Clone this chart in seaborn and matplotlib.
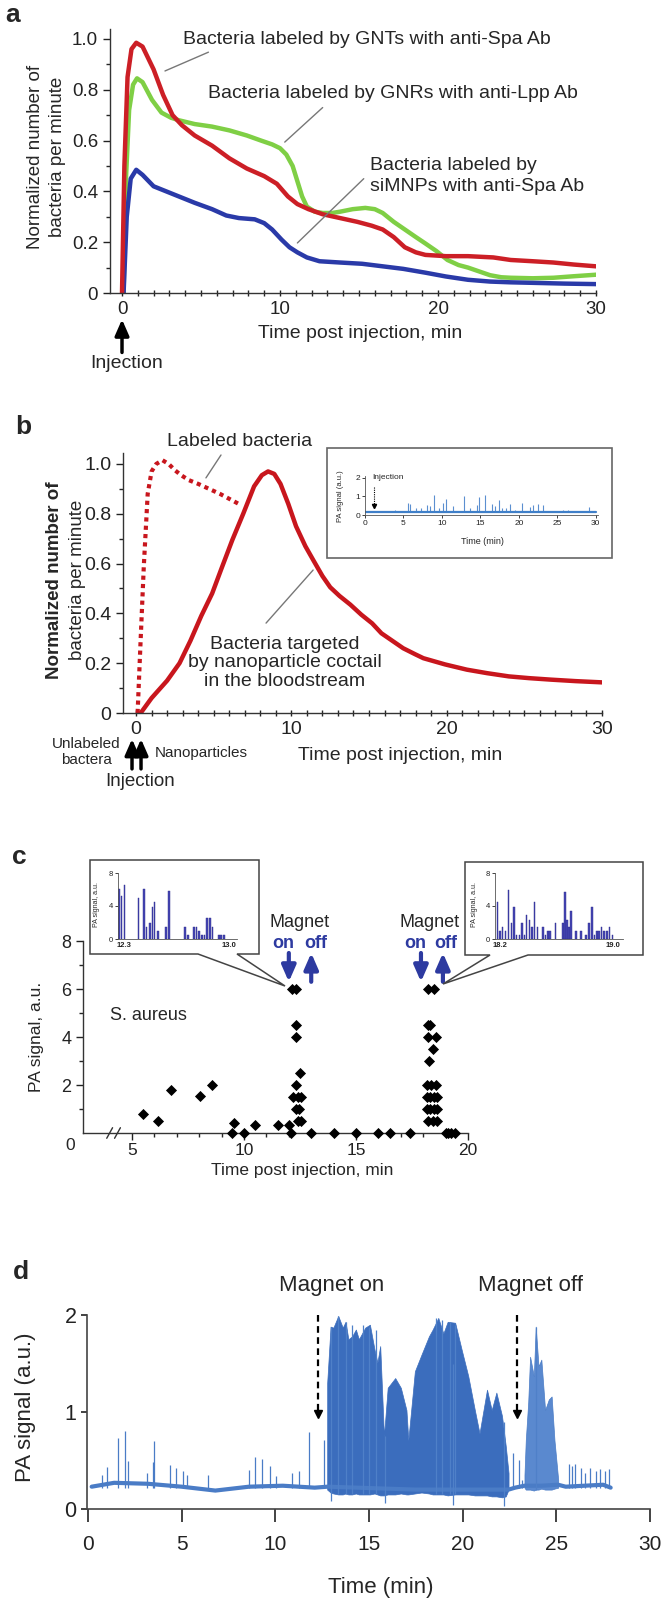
import numpy as np
import matplotlib.pyplot as plt
from matplotlib.patches import Polygon, Rectangle
import seaborn as sns

# ---- panel a: normalized bacteria counts (three labels) ----
a_x_red = [0, 0.15, 0.35, 0.6, 0.9, 1.3, 2.0, 2.6, 3.2, 3.8, 4.6, 5.7, 6.8, 7.9, 9.0, 9.8, 10.5, 11.1, 11.8,
           12.7, 13.8, 14.9, 15.8, 16.5, 17.2, 17.9, 18.6, 19.2, 20.5, 21.9, 23.5, 24.6, 26, 27.3, 28.6, 30]
a_y_red = [0, 0.5, 0.85, 0.96, 0.985, 0.97, 0.88, 0.78, 0.7, 0.66, 0.62, 0.58, 0.53, 0.49, 0.46, 0.43, 0.38,
           0.35, 0.33, 0.31, 0.295, 0.28, 0.265, 0.25, 0.22, 0.18, 0.16, 0.15, 0.145, 0.145, 0.14, 0.13, 0.125,
           0.12, 0.112, 0.105]
a_x_grn = [0.1, 0.25, 0.45, 0.7, 0.95, 1.3, 1.9, 2.5, 3.1, 3.6, 4.6, 5.7, 6.8, 7.9, 8.8, 9.5, 10.0, 10.4, 10.8,
           11.1, 11.4, 11.7, 12.2, 12.7, 13.3, 13.8, 14.6, 15.4, 16.0, 16.5, 17.2, 17.9, 18.6, 19.2, 19.9, 20.6,
           21.3, 21.9, 22.6, 23.3, 24.0, 24.6, 26, 27.3, 28.6, 30]
a_y_grn = [0, 0.45, 0.72, 0.82, 0.845, 0.83, 0.76, 0.71, 0.69, 0.68, 0.665, 0.655, 0.64, 0.62, 0.6, 0.585, 0.57,
           0.545, 0.5, 0.44, 0.38, 0.34, 0.32, 0.315, 0.315, 0.32, 0.33, 0.335, 0.33, 0.315, 0.28, 0.25, 0.22,
           0.195, 0.165, 0.13, 0.11, 0.1, 0.085, 0.07, 0.062, 0.06, 0.058, 0.06, 0.066, 0.072]
a_x_blu = [0.1, 0.3, 0.55, 0.9, 1.3, 2.0, 2.8, 3.6, 4.6, 5.7, 6.6, 7.4, 8.4, 9.0, 9.5, 10.1, 10.6, 11.1, 11.7,
           12.5, 13.8, 15.2, 16.5, 17.8, 19.2, 20.5, 21.9, 23.3, 24.6, 26, 28, 30]
a_y_blu = [0, 0.3, 0.45, 0.485, 0.465, 0.42, 0.4, 0.38, 0.355, 0.33, 0.305, 0.295, 0.29, 0.275, 0.25, 0.21, 0.18,
           0.16, 0.14, 0.125, 0.12, 0.115, 0.105, 0.095, 0.08, 0.065, 0.052, 0.045, 0.042, 0.04, 0.037, 0.035]
a_labels = ["Bacteria labeled by GNTs with anti-Spa Ab", "Bacteria labeled by GNRs with anti-Lpp Ab",
            "Bacteria labeled by\nsiMNPs with anti-Spa Ab"]

# ---- panel b: labeled vs targeted bacteria ----
b_x_sol = [0.3, 1.0, 2.0, 2.8, 3.5, 4.2, 4.9, 5.5, 6.2, 6.9, 7.6, 8.1, 8.5, 8.9, 9.3, 9.8, 10.3, 10.9, 11.4, 12.0,
           12.5, 13.1, 13.8, 14.5, 15.2, 15.8, 16.5, 17.2, 18.0, 18.5, 19.9, 21.3, 22.6, 24.0, 25.3, 26.7, 28.3, 30]
b_y_sol = [0, 0.06, 0.13, 0.2, 0.29, 0.39, 0.48, 0.58, 0.695, 0.8, 0.91, 0.955, 0.97, 0.96, 0.92, 0.84, 0.75,
           0.67, 0.615, 0.55, 0.505, 0.47, 0.435, 0.395, 0.36, 0.32, 0.29, 0.26, 0.235, 0.22, 0.195, 0.174, 0.16,
           0.147, 0.14, 0.134, 0.128, 0.123]
b_x_dot = [0.1, 0.3, 0.5, 0.75, 1.0, 1.3, 1.7, 2.1, 2.5, 2.9, 3.4, 4.0, 4.7, 5.4, 6.0, 6.6]
b_y_dot = [0, 0.3, 0.59, 0.88, 0.97, 1.0, 1.015, 1.0, 0.975, 0.955, 0.935, 0.92, 0.9, 0.88, 0.86, 0.84]
# inset of panel b: PA signal spikes
bi_x = [3.9, 5.6, 5.9, 6.6, 7.3, 8.1, 8.5, 9.0, 9.6, 10.2, 10.5, 11.4, 12.9, 13.7, 14.5, 14.8, 15.6, 16.5, 16.9,
        17.4, 17.8, 18.3, 18.9, 19.5, 20.4, 21.5, 21.9, 22.5, 23.1, 25.7, 26.4, 27.9, 29.1]
bi_y = [0.25, 0.65, 0.6, 0.4, 0.36, 0.54, 0.48, 1.07, 0.36, 0.62, 0.86, 0.5, 1.02, 0.36, 0.54, 0.95, 1.07, 0.57,
        0.5, 0.8, 0.4, 0.36, 0.57, 0.27, 0.66, 0.45, 0.54, 0.57, 0.54, 0.27, 0.27, 0.18, 0.45]
bi_base = 0.15

# ---- panel c: PA signal of S. aureus ----
c_x = [5.48, 6.14, 6.75, 8.02, 8.59, 9.56, 9.47, 10.0, 10.5, 11.5, 12.0, 12.1,
       12.15, 12.3, 12.34, 12.3, 12.5, 12.3, 12.2, 12.4, 12.55, 12.3, 12.45, 12.4, 12.55,
       13.0, 14.0, 15.0, 16.0, 16.5, 17.4,
       18.23, 18.46, 18.2, 18.3, 18.2, 18.55, 18.45, 18.27, 18.17, 18.36, 18.55,
       18.17, 18.3, 18.46, 18.6, 18.17, 18.3, 18.49, 18.6, 18.23, 18.42, 18.6,
       19.0, 19.1, 19.25, 19.4]
c_y = [0.8, 0.5, 1.8, 1.53, 2.0, 0.42, 0.0, 0.0, 0.32, 0.32, 0.32, 0.0,
       6.0, 6.0, 4.5, 4.0, 2.5, 2.0, 1.5, 1.5, 1.5, 1.0, 1.0, 0.5, 0.5,
       0.0, 0.0, 0.0, 0.0, 0.0, 0.0,
       6.0, 6.0, 4.5, 4.5, 4.0, 4.0, 3.5, 3.0, 2.0, 2.0, 2.0,
       1.5, 1.5, 1.5, 1.5, 1.0, 1.0, 1.0, 1.0, 0.5, 0.5, 0.5,
       0.0, 0.0, 0.0, 0.0]
c1_x = [12.267, 12.282, 12.304, 12.397, 12.432, 12.450, 12.472, 12.490, 12.503, 12.525, 12.580, 12.598, 12.706,
        12.724, 12.763, 12.781, 12.799, 12.816, 12.834, 12.852, 12.869, 12.887, 12.929, 12.945, 12.962]
c1_y = [6.1, 5.2, 6.5, 5.0, 6.1, 1.5, 1.9, 3.9, 4.5, 1.0, 1.5, 5.85, 1.5, 0.5, 1.5, 1.5, 1.0, 0.5, 0.5, 2.5,
        2.5, 1.5, 0.5, 0.5, 0.5]
c2_x = [18.181, 18.200, 18.219, 18.238, 18.262, 18.280, 18.299, 18.318, 18.337, 18.356, 18.375, 18.389, 18.408,
        18.427, 18.446, 18.465, 18.503, 18.521, 18.540, 18.555, 18.592, 18.645, 18.661, 18.673, 18.687, 18.701,
        18.739, 18.772, 18.810, 18.829, 18.850, 18.869, 18.886, 18.900, 18.918, 18.937, 18.956, 18.975, 18.994]
c2_y = [4.5, 1.0, 1.5, 1.0, 6.0, 1.9, 3.9, 0.5, 0.5, 1.9, 0.5, 2.9, 2.3, 1.5, 4.5, 1.5, 1.5, 0.5, 1.0, 1.0,
        1.9, 1.9, 5.7, 2.3, 1.5, 3.4, 1.0, 1.0, 0.5, 1.9, 3.9, 0.5, 1.0, 1.0, 1.5, 1.0, 1.0, 1.5, 0.5]

# ---- panel d: PA signal trace ----
d_base_x = [0.2, 1.4, 3.2, 5.0, 6.8, 8.6, 10.4, 12.1, 12.8, 17.5, 22.45, 22.8, 23.3, 24.2, 25.1, 25.5, 26.5,
            27.5, 27.9]
d_base_y = [0.23, 0.27, 0.26, 0.23, 0.19, 0.23, 0.24, 0.22, 0.23, 0.2, 0.2, 0.22, 0.24, 0.24, 0.25, 0.23, 0.24,
            0.25, 0.22]
d_spk_x = [0.75, 1.04, 1.6, 2.0, 2.14, 3.16, 3.48, 3.52, 4.4, 4.7, 5.1, 5.3, 6.4, 8.6, 8.9, 9.3, 9.7, 10.05,
           10.9, 11.25, 11.8, 12.6, 22.7, 23.0, 23.15, 25.65, 25.85, 26.0, 26.3, 26.55, 26.8, 27.1, 27.35, 27.6,
           27.8]
d_spk_y = [0.35, 0.43, 0.73, 0.80, 0.49, 0.37, 0.48, 0.70, 0.45, 0.42, 0.39, 0.35, 0.35, 0.40, 0.54, 0.52, 0.44,
           0.34, 0.37, 0.39, 0.79, 0.71, 0.58, 0.51, 0.3, 0.46, 0.44, 0.46, 0.42, 0.37, 0.42, 0.39, 0.41, 0.39,
           0.41]
d_b1_x = [12.77, 12.95, 13.1, 13.36, 13.6, 13.75, 13.9, 14.1, 14.3, 14.46, 14.8, 15.05, 15.3, 15.45, 15.6, 15.8,
          16.0, 16.4, 16.7, 17.0, 17.1, 17.45, 17.8, 18.2, 18.4, 18.7, 18.97, 19.2, 19.6, 19.95, 20.3, 20.65,
          20.9, 21.3, 21.55, 21.8, 22.1, 22.3, 22.45]
d_b1_hi = [1.3, 1.88, 1.87, 1.99, 1.87, 1.93, 1.75, 1.78, 1.85, 1.75, 1.87, 1.9, 1.64, 1.51, 1.68, 0.75, 1.25,
           1.35, 1.25, 1.02, 0.71, 1.42, 1.59, 1.78, 1.85, 1.97, 1.81, 1.93, 1.92, 1.64, 1.37, 1.02, 0.78, 1.23,
           1.02, 1.2, 0.96, 0.65, 0.37]
d_b1_lo = [0.2, 0.17, 0.16, 0.15, 0.15, 0.16, 0.15, 0.15, 0.16, 0.15, 0.15, 0.15, 0.16, 0.15, 0.14, 0.14, 0.15,
           0.15, 0.16, 0.15, 0.15, 0.16, 0.17, 0.16, 0.15, 0.15, 0.15, 0.14, 0.15, 0.15, 0.15, 0.14, 0.14, 0.14,
           0.13, 0.13, 0.12, 0.13, 0.2]
d_b2_x = [23.3, 23.37, 23.5, 23.6, 23.8, 23.9, 24.05, 24.2, 24.4, 24.6, 24.75, 24.9, 25.1]
d_b2_hi = [0.35, 0.71, 1.1, 1.57, 1.37, 1.88, 1.47, 1.54, 1.02, 1.13, 1.16, 0.71, 0.3]
d_b2_lo = [0.22, 0.2, 0.2, 0.2, 0.19, 0.2, 0.2, 0.21, 0.2, 0.2, 0.2, 0.21, 0.22]
d_hair_x = [12.95, 13.36, 13.75, 14.07, 14.7, 15.0, 15.35, 15.85, 18.6, 18.9, 19.3, 19.5, 19.6, 22.2, 23.9]
d_hair_lo = [0.08, 0.15, 0.15, 0.15, 0.15, 0.15, 0.15, 0.06, 0.15, 0.15, 0.15, 0.045, 0.15, 0.03, 0.2]
d_hair_hi = [1.88, 1.99, 1.93, 1.9, 1.9, 1.88, 1.85, 0.75, 1.97, 1.95, 1.93, 1.5, 1.9, 0.9, 1.88]

W, H = 662, 1607
sns.set_theme(style="ticks")
plt.rcParams["font.family"] = ["Liberation Sans", "DejaVu Sans"]
fig = plt.figure(figsize=(W / 100, H / 100), dpi=100)


def rect(l, t, r, b):
    return [l / W, 1 - b / H, (r - l) / W, (b - t) / H]


def ftxt(x, y, s, **kw):
    kw.setdefault("ha", "center")
    kw.setdefault("va", "center")
    fig.text(x / W, 1 - y / H, s, **kw)


def style(ax, lw=1.0, col="#333333"):
    sns.despine(ax=ax)
    for s in ["left", "bottom"]:
        ax.spines[s].set_color(col)
        ax.spines[s].set_linewidth(lw)
    ax.tick_params(colors="#222222", width=lw)
    ax.set_xlabel("")
    ax.set_ylabel("")


# ================= panel a =================
axa = fig.add_axes(rect(110, 28.8, 596, 293))
for xs, ys, c in [(a_x_grn, a_y_grn, "#7fcf45"), (a_x_blu, a_y_blu, "#2a3aa8"), (a_x_red, a_y_red, "#cc1f26")]:
    sns.lineplot(x=xs, y=ys, ax=axa, color=c, linewidth=3.2, sort=False, estimator=None)
axa.set_xlim(-0.76, 30)
axa.set_ylim(0, 1.04)
style(axa)
axa.set_yticks([0, 0.2, 0.4, 0.6, 0.8, 1.0], ["0", "0.2", "0.4", "0.6", "0.8", "1.0"], fontsize=13.5)
axa.set_yticks(np.arange(0.1, 1.0, 0.2), minor=True)
axa.set_xticks([0, 10, 20, 30], ["0", "10", "20", "30"], fontsize=13.5)
axa.set_xticks(range(0, 31), minor=True)
axa.tick_params(axis="x", which="both", direction="inout", length=5)
axa.tick_params(axis="y", which="major", length=5)
axa.tick_params(axis="y", which="minor", length=3)
for (x0, y0, x1, y1) in [(2.72, 0.874, 5.47, 0.948), (10.3, 0.594, 12.7, 0.73), (11.1, 0.197, 15.3, 0.45)]:
    axa.plot([x0, x1], [y0, y1], color="#777777", lw=1)
ftxt(183, 39, a_labels[0], ha="left", fontsize=14)
ftxt(208, 94, a_labels[1], ha="left", fontsize=14)
ftxt(370, 176, a_labels[2], ha="left", fontsize=14, linespacing=1.25)
ftxt(36, 157, "Normalized number of", rotation=90, fontsize=13.5)
ftxt(57, 157, "bacteria per minute", rotation=90, fontsize=13.5)
ftxt(360, 333, "Time post injection, min", fontsize=14)
axa.annotate("", xy=(0, -0.1), xytext=(0, -0.225), xycoords=axa.get_xaxis_transform(),
             arrowprops=dict(arrowstyle="-|>,head_width=0.35,head_length=0.8", color="black", lw=2.5,
                             shrinkA=0, shrinkB=0))
ftxt(127, 363, "Injection", fontsize=14)
ftxt(13, 15, "a", fontsize=19, fontweight="bold")

# ================= panel b =================
axb = fig.add_axes(rect(123, 453, 602, 713))
sns.lineplot(x=b_x_dot, y=b_y_dot, ax=axb, color="#c8161d", linewidth=3, linestyle=(0, (1, 1)),
             sort=False, estimator=None)
sns.lineplot(x=b_x_sol, y=b_y_sol, ax=axb, color="#c8161d", linewidth=3.2, sort=False, estimator=None)
axb.set_xlim(-0.84, 30)
axb.set_ylim(0, 1.044)
style(axb)
axb.set_yticks([0, 0.2, 0.4, 0.6, 0.8, 1.0], ["0", "0.2", "0.4", "0.6", "0.8", "1.0"], fontsize=14)
axb.set_yticks(np.arange(0.1, 1.0, 0.2), minor=True)
axb.set_xticks([0, 10, 20, 30], ["0", "10", "20", "30"], fontsize=14)
axb.set_xticks(range(0, 31), minor=True)
axb.tick_params(axis="x", which="both", direction="inout", length=5)
axb.tick_params(axis="y", which="major", length=5)
axb.tick_params(axis="y", which="minor", length=3)
axb.plot([4.5, 5.47], [0.944, 1.036], color="#777777", lw=1)
axb.plot([8.37, 11.4], [0.361, 0.574], color="#777777", lw=1)
ftxt(240, 442, "Labeled bacteria", fontsize=14)
ftxt(285, 663, "Bacteria targeted\nby nanoparticle coctail\nin the bloodstream", fontsize=14,
     linespacing=1.15)
ftxt(55, 580, "Normalized number of", rotation=90, fontsize=13.5, fontweight="bold")
ftxt(77, 580, "bacteria per minute", rotation=90, fontsize=13.5)
ftxt(400, 755, "Time post injection, min", fontsize=14)
for xa in [-0.26, 0.32]:
    axb.annotate("", xy=(xa, -0.1), xytext=(xa, -0.215), xycoords=axb.get_xaxis_transform(),
                 arrowprops=dict(arrowstyle="-|>,head_width=0.35,head_length=0.8", color="black", lw=2.5,
                                 shrinkA=0, shrinkB=0))
ftxt(86, 752, "Unlabeled\nbactera", fontsize=11, linespacing=1.1)
ftxt(155, 753, "Nanoparticles", ha="left", fontsize=11)
ftxt(140, 781, "Injection", fontsize=13.5)
ftxt(23, 427, "b", fontsize=19, fontweight="bold")

# inset of b
fig.add_artist(Rectangle((327 / W, 1 - 558 / H), 285 / W, 110 / H, transform=fig.transFigure,
                         facecolor="white", edgecolor="#666666", lw=1.2, zorder=1))
axbi = fig.add_axes(rect(365, 476, 598, 515))
axbi.set_zorder(3)
axbi.patch.set_alpha(0)
axbi.vlines(bi_x, bi_base, bi_y, color="#5b8fd0", lw=0.8)
sns.lineplot(x=[0, 30], y=[bi_base, bi_base], ax=axbi, color="#3f7fc8", linewidth=1.6)
axbi.set_xlim(0, 30.3)
axbi.set_ylim(0, 2.1)
style(axbi, lw=0.6, col="#555555")
axbi.set_yticks([0, 1, 2], ["0", "1", "2"], fontsize=6)
axbi.set_xticks(range(0, 31, 5), [str(v) for v in range(0, 31, 5)], fontsize=6)
axbi.tick_params(length=2, pad=1.5)
axbi.plot([1.2, 1.2], [1.5, 0.55], color="black", lw=0.8, linestyle=(0, (1, 1)))
axbi.plot([1.2], [0.5], marker="v", color="black", markersize=3)
axbi.text(1.0, 2.0, "Injection", fontsize=6, ha="left", va="center")
ftxt(482, 541, "Time (min)", fontsize=6.5, zorder=4)
ftxt(340, 496, "PA signal (a.u.)", rotation=90, fontsize=5.5, zorder=4)

# ================= panel c =================
axc = fig.add_axes(rect(83, 941, 468, 1133))
sns.scatterplot(x=c_x, y=c_y, ax=axc, marker="D", color="black", s=32, edgecolor="black", linewidth=0,
                clip_on=False, zorder=5)
axc.set_xlim(2.81, 20)
axc.set_ylim(0, 8)
style(axc)
axc.set_yticks([2, 4, 6, 8], ["2", "4", "6", "8"], fontsize=13)
axc.set_yticks([1, 3, 5, 7], minor=True)
axc.set_xticks([5, 10, 15, 20], ["5", "10", "15", "20"], fontsize=12.5)
axc.set_xticks(range(5, 21), minor=True)
axc.tick_params(axis="both", which="major", length=5)
axc.tick_params(axis="both", which="minor", length=3)
axc.tick_params(axis="x", pad=2)
for xb in [4.0, 4.35]:
    axc.plot([xb - 0.13, xb + 0.13], [-0.22, 0.22], color="#333333", lw=1, clip_on=False)
ftxt(70, 1146, "0", fontsize=12.5)
ftxt(36, 1037, "PA signal, a.u.", rotation=90, fontsize=12.5)
ftxt(302, 1171, "Time post injection, min", fontsize=12.5)
axc.text(4.0, 4.9, "S. aureus", fontsize=13, ha="left", va="center")
blue = "#2d3aa0"
for xm, xon, xoff, xdn, xup in [(300, 283, 316, 12.0, 13.0), (430, 415, 446, 17.9, 18.88)]:
    ftxt(xm, 922, "Magnet", fontsize=13)
    ftxt(xon, 944, "on", fontsize=13, fontweight="bold", color=blue)
    ftxt(xoff, 944, "off", fontsize=13, fontweight="bold", color=blue)
    axc.annotate("", xy=(xdn, 6.3), xytext=(xdn, 7.5), annotation_clip=False,
                 arrowprops=dict(arrowstyle="-|>,head_width=0.35,head_length=0.8", color=blue, lw=3,
                                 shrinkA=0, shrinkB=0))
    axc.annotate("", xy=(xup, 7.5), xytext=(xup, 6.3), annotation_clip=False,
                 arrowprops=dict(arrowstyle="-|>,head_width=0.35,head_length=0.8", color=blue, lw=3,
                                 shrinkA=0, shrinkB=0))

# callouts
call1 = [(90, 860), (259, 860), (259, 954), (237, 954), (285, 986), (198, 954), (90, 954)]
call2 = [(465, 862), (643, 862), (643, 955), (528, 955), (443, 984), (490, 955), (465, 955)]
for pts in [call1, call2]:
    fig.add_artist(Polygon([(x / W, 1 - y / H) for x, y in pts], closed=True, transform=fig.transFigure,
                           facecolor="white", edgecolor="#444444", lw=1.1, zorder=1))

for (l, r), xs, ys, lim, labs in [((118, 237), c1_x, c1_y, (12.26, 13.05), ["12.3", "13.0"]),
                                  ((495, 623), c2_x, c2_y, (18.165, 19.07), ["18.2", "19.0"])]:
    axi = fig.add_axes(rect(l, 873, r, 939))
    axi.set_zorder(3)
    axi.patch.set_alpha(0)
    axi.bar(xs, ys, width=0.0105, color="#4646b4", edgecolor="#2a2a8a", linewidth=0.3)
    axi.set_xlim(*lim)
    axi.set_ylim(0, 8)
    style(axi, lw=0.6, col="#555555")
    axi.set_yticks([0, 4, 8], ["0", "4", "8"], fontsize=5.5)
    axi.set_xticks([float(v) for v in labs], labs, fontsize=5.5, fontweight="bold")
    axi.tick_params(axis="x", length=0, pad=2)
    axi.tick_params(axis="y", length=2, pad=1.5)
    ftxt(l - 21, 905, "PA signal, a.u.", rotation=90, fontsize=5, zorder=4)
ftxt(19, 857, "c", fontsize=19, fontweight="bold")

# ================= panel d =================
axd = fig.add_axes(rect(87, 1315, 650, 1509))
dcol = "#3b6dbd"
sns.lineplot(x=d_base_x, y=d_base_y, ax=axd, color="#4a7cc6", linewidth=3, sort=False, estimator=None)
axd.vlines(d_spk_x, 0.22, d_spk_y, color="#4a7cc6", lw=0.9)
axd.fill_between(d_b1_x, d_b1_lo, d_b1_hi, color=dcol, lw=0.5, edgecolor=dcol)
axd.fill_between(d_b2_x, d_b2_lo, d_b2_hi, color="#5a89cf", lw=0.5, edgecolor="#4a7cc6")
axd.vlines(d_hair_x, d_hair_lo, d_hair_hi, color="#4f80c8", lw=0.9)
axd.set_xlim(-0.05, 30)
axd.set_ylim(0, 2)
style(axd, lw=1.2, col="#444444")
axd.set_yticks([0, 1, 2], ["0", "1", "2"], fontsize=15.5)
axd.set_xticks(range(0, 31, 5), [str(v) for v in range(0, 31, 5)], fontsize=15)
axd.tick_params(axis="x", length=9, pad=10)
axd.tick_params(axis="y", length=4)
for xa in [12.3, 22.9]:
    axd.plot([xa, xa], [2.0, 1.0], color="black", lw=1.6, linestyle=(0, (3, 2)))
    axd.plot([xa], [0.98], marker="v", color="black", markersize=6)
ftxt(332, 1285, "Magnet on", fontsize=16)
ftxt(530, 1285, "Magnet off", fontsize=16)
ftxt(26, 1407, "PA signal (a.u.)", rotation=90, fontsize=16)
ftxt(381, 1587, "Time (min)", fontsize=16)
ftxt(21, 1272, "d", fontsize=19, fontweight="bold")

fig.savefig("out.png", dpi=100)
